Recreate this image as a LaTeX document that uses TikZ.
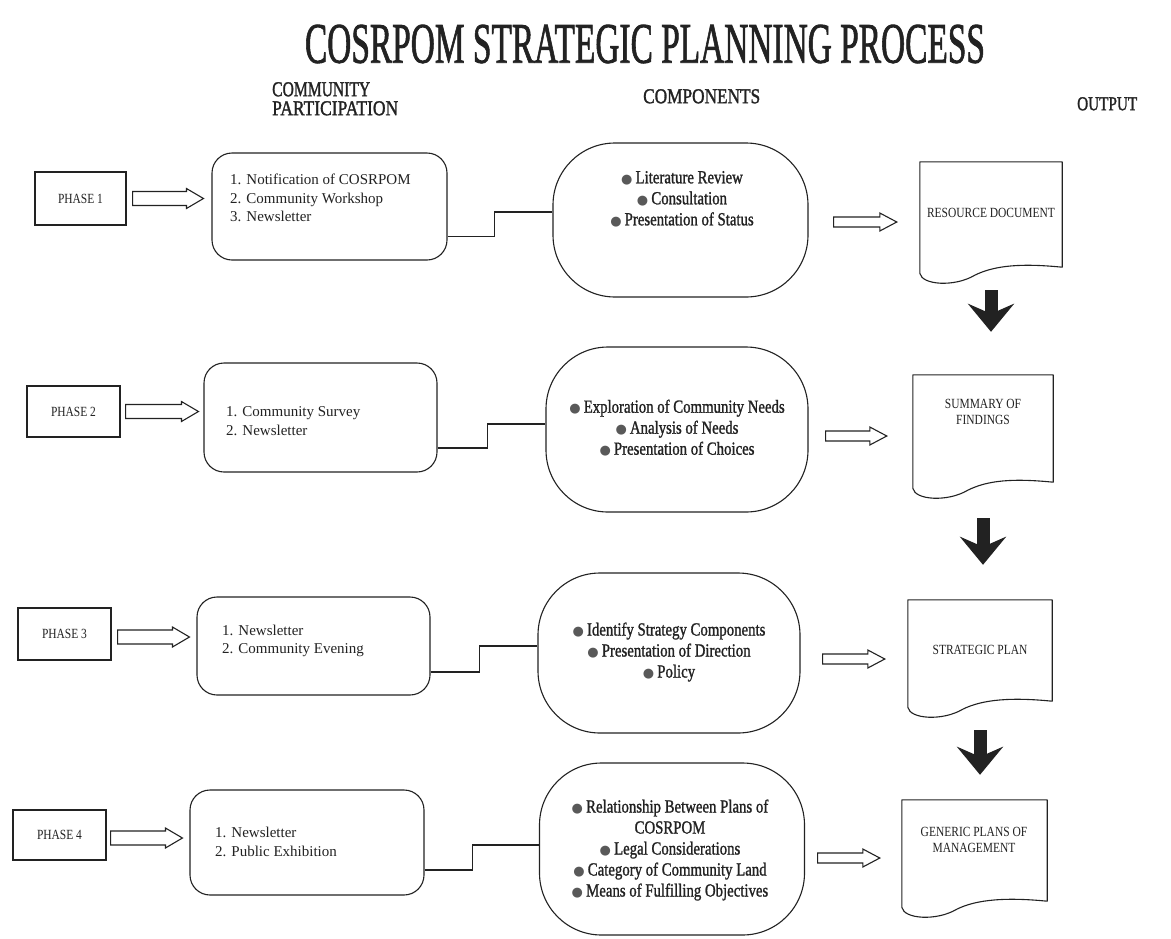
\documentclass[tikz,border=0pt]{standalone}
\usepackage{fontspec}
\setmainfont{Liberation Serif}
\newfontfamily\condfont[FakeStretch=0.8,FakeBold=1.2]{Liberation Serif}
\newfontfamily\doccond[FakeStretch=0.82]{Liberation Serif}
\newfontfamily\headfont[FakeBold=1.6]{Liberation Serif}
\newfontfamily\bulfont{DejaVu Sans}
\usetikzlibrary{arrows.meta,calc}
\definecolor{ink}{HTML}{222222}
\newcommand\bulletmark{{\bulfont\fontsize{13}{13}\selectfont\textcolor{ink!75}{●}}\,}
\newcommand\fitto[3]{\resizebox{#1pt}{#2pt}{#3}}
\newcommand\hollowarrow[4]{%
  \draw[holl] let \p1=#1, \p2=#2 in
   (\x1,\y1+#3pt) -- (\x2-17pt,\y1+#3pt) -- (\x2-17pt,\y1+#4pt) -- (\x2,\y1)
   -- (\x2-17pt,\y1-#4pt) -- (\x2-17pt,\y1-#3pt) -- (\x1,\y1-#3pt) -- cycle;}
\tikzset{
 inkline/.style={draw=ink, line width=1.1pt},
 phasebox/.style={inkline, font=\doccond\fontsize{14}{16}\selectfont, inner sep=0pt, text=ink},
 listbox/.style={inkline, rounded corners=20pt, inner sep=0pt},
 listtext/.style={anchor=west, align=left, font=\fontsize{15}{18.5}\selectfont, inner sep=0pt, text=ink},
 stadium/.style={inkline, rounded corners=62pt, inner sep=0pt},
 stadtext/.style={align=center, font=\condfont\fontsize{18.5}{21}\selectfont, inner sep=0pt, text=ink},
 docbox/.style={inner sep=0pt},
 doctext/.style={align=center, font=\doccond\fontsize{14}{15.5}\selectfont, inner sep=0pt, text=ink},
 docline/.style={inkline, line join=round},
 holl/.style={draw=ink, line width=1.1pt, fill=white, line join=miter},
 conn/.style={draw=ink, line width=1.1pt},
 blk/.style={draw=ink, line width=13pt, -{Stealth[length=28pt,width=46pt,inset=10pt]}},
 heading/.style={inner sep=0pt, text=ink, font=\headfont},
}
\begin{document}
\begin{tikzpicture}[x=1pt,y=-1pt]
\fill[white] (0,0) rectangle (1171,938);
\useasboundingbox (0,0) rectangle (1171,938);

% headings
\node[heading] (title) at (645,44) {\fitto{680}{38}{COSRPOM STRATEGIC PLANNING PROCESS}};
\node[heading, anchor=north west] (hcp1) at (272,82) {\fitto{98}{14}{COMMUNITY}};
\node[heading, anchor=north west] (hcp2) at (272,101) {\fitto{126}{14}{PARTICIPATION}};
\node[heading, anchor=north west] (hcomp) at (643,89) {\fitto{117}{14}{COMPONENTS}};
\node[heading, anchor=north west] (hout) at (1077,97) {\fitto{60}{13}{OUTPUT}};

% phase boxes
\node[phasebox, minimum width=91pt, minimum height=53pt] (p1) at (80.5,198.5) {PHASE 1};
\node[phasebox, minimum width=93pt, minimum height=51pt] (p2) at (73.5,411.5) {PHASE 2};
\node[phasebox, minimum width=93pt, minimum height=52pt] (p3) at (64.5,634) {PHASE 3};
\node[phasebox, minimum width=93pt, minimum height=50pt] (p4) at (59.5,835) {PHASE 4};

% community participation boxes
\node[listbox, minimum width=235pt, minimum height=107pt] (b1) at (329.5,206.5) {};
\node[listbox, minimum width=233pt, minimum height=109pt] (b2) at (320.5,417.5) {};
\node[listbox, minimum width=233pt, minimum height=98pt] (b3) at (313.5,646) {};
\node[listbox, minimum width=234pt, minimum height=105pt] (b4) at (307,842.5) {};
\node[listtext] (t1) at (230,198) {1. Notification of COSRPOM\\2. Community Workshop\\3. Newsletter};
\node[listtext] (t2) at (226,421) {1. Community Survey\\2. Newsletter};
\node[listtext] (t3) at (222,641) {1. Newsletter\\2. Community Evening};
\node[listtext] (t4) at (215,842) {1. Newsletter\\2. Public Exhibition};

% phase -> box arrows
\hollowarrow{($(p1.east)+(6,0)$)}{($(b1.west)+(-8,0)$)}{7}{10}
\hollowarrow{($(p2.east)+(5,0)$)}{($(b2.west)+(-5,0)$)}{7}{10}
\hollowarrow{($(p3.east)+(6,3)$)}{($(b3.west)+(-7,0)$)}{7}{10}
\hollowarrow{($(p4.east)+(4,3)$)}{($(b4.west)+(-7,0)$)}{7}{10}

% components
\node[stadium, minimum width=255pt, minimum height=154pt] (s1) at (680.5,220) {};
\node[stadium, minimum width=262pt, minimum height=165pt] (s2) at (677,429.5) {};
\node[stadium, minimum width=262pt, minimum height=160pt] (s3) at (669,653) {};
\node[stadium, minimum width=265pt, minimum height=172pt] (s4) at (672,849) {};
\node[stadtext] (c1) at (682,199) {\bulletmark Literature Review\\\bulletmark Consultation\\\bulletmark Presentation of Status};
\node[stadtext] (c2) at (677,428) {\bulletmark Exploration of Community Needs\\\bulletmark Analysis of Needs\\\bulletmark Presentation of Choices};
\node[stadtext] (c3) at (669,652) {\bulletmark Identify Strategy Components\\\bulletmark Presentation of Direction\\\bulletmark Policy};
\node[stadtext] (c4) at (670,850) {\bulletmark Relationship Between Plans of\\COSRPOM\\\bulletmark Legal Considerations\\\bulletmark Category of Community Land\\\bulletmark Means of Fulfilling Objectives};

% box -> component connectors
\draw[conn] ($(b1.east)+(0,30)$) -- ++(47,0) |- ($(s1.west)+(0,-8)$);
\draw[conn] ($(b2.east)+(0,30.5)$) -- ++(50,0) |- ($(s2.west)+(0,-5.5)$);
\draw[conn] ($(b3.east)+(0,26)$) -- ++(49,0) |- ($(s3.west)+(0,-7)$);
\draw[conn] ($(b4.east)+(0,27.5)$) -- ++(48,0) |- ($(s4.west)+(0,-4)$);

% outputs
\node[docbox, minimum width=142pt, minimum height=111pt] (d1) at (991,217.5) {};
\node[docbox, minimum width=140pt, minimum height=113pt] (d2) at (983,431.5) {};
\node[docbox, minimum width=144pt, minimum height=107pt] (d3) at (980,653.5) {};
\node[docbox, minimum width=145pt, minimum height=107pt] (d4) at (974.5,853.5) {};
\foreach \d in {d1,d2,d3,d4}{
  \draw[docline] (\d.north west) -- (\d.north east) -- ($(\d.south east)+(0,-6)$)
    .. controls +(-40,-4) and +(20,-10) .. ($(\d.south west)+(55,2)$)
    .. controls +(-20,12) and +(2,12) .. (\d.south west) -- cycle;
}
\node[doctext] (dt1) at (991,213) {RESOURCE DOCUMENT};
\node[doctext] (dt2) at (983,412) {SUMMARY OF\\FINDINGS};
\node[doctext] (dt3) at (980,650) {STRATEGIC PLAN};
\node[doctext] (dt4) at (974,840) {GENERIC PLANS OF\\MANAGEMENT};

% component -> output arrows
\hollowarrow{($(s1.east)+(25,2)$)}{($(d1.west)+(-23,0)$)}{5}{9}
\hollowarrow{($(s2.east)+(17,6.5)$)}{($(d2.west)+(-26,0)$)}{5}{9}
\hollowarrow{($(s3.east)+(22,6)$)}{($(d3.west)+(-23,0)$)}{5}{9}
\hollowarrow{($(s4.east)+(12.5,9)$)}{($(d4.west)+(-22,0)$)}{5}{9}

% output -> output arrows
\coordinate (a1e) at ($(d2.north)+(0,-43)$);
\coordinate (a2e) at ($(d3.north)+(0,-35)$);
\coordinate (a3e) at ($(d4.north)+(0,-25)$);
\draw[blk] ($(d1.south)+(0,17)$) -- (a1e -| d1.south);
\draw[blk] ($(d2.south)+(0,30)$) -- (a2e -| d2.south);
\draw[blk] ($(d3.south)+(0,23)$) -- (a3e -| d3.south);
\end{tikzpicture}
\end{document}
